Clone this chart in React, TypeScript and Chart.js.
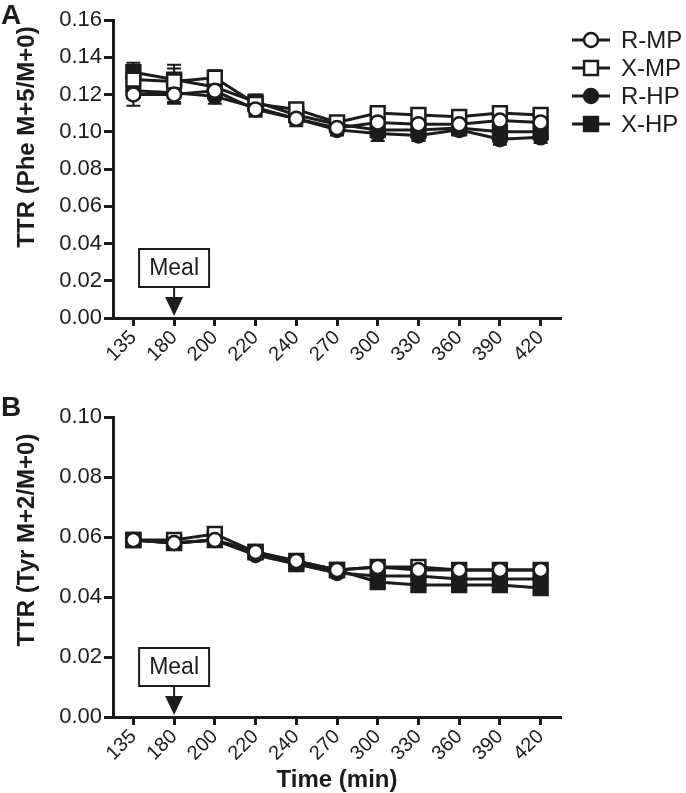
import React, { useEffect, useRef } from 'react';
import { Chart, registerables } from 'chart.js';

Chart.register(...registerables);

// ---------- data ----------
const TIMES = ['135', '180', '200', '220', '240', '270', '300', '330', '360', '390', '420'];
const SERIES_NAMES = ['R-MP', 'X-MP', 'R-HP', 'X-HP'];
const MEAL_LABEL = 'Meal';
const MEAL_TIME = '180';

// Panel A: Phe M+5/M+0
const PHE_R_MP = [0.120, 0.120, 0.122, 0.112, 0.107, 0.102, 0.105, 0.104, 0.104, 0.106, 0.105];
const PHE_X_MP = [0.128, 0.127, 0.129, 0.115, 0.112, 0.105, 0.110, 0.109, 0.108, 0.110, 0.109];
const PHE_R_HP = [0.122, 0.121, 0.119, 0.113, 0.107, 0.101, 0.099, 0.098, 0.101, 0.096, 0.097];
const PHE_X_HP = [0.132, 0.128, 0.124, 0.116, 0.109, 0.104, 0.101, 0.101, 0.102, 0.100, 0.100];
const PHE_R_MP_ERR = [0.006, 0.005, 0.004, 0.004, 0.004, 0.003, 0.004, 0.003, 0.003, 0.003, 0.003];
const PHE_X_MP_ERR = [0.005, 0.009, 0.004, 0.003, 0.003, 0.003, 0.003, 0.002, 0.002, 0.002, 0.002];
const PHE_R_HP_ERR = [0.004, 0.005, 0.004, 0.004, 0.003, 0.003, 0.004, 0.003, 0.003, 0.003, 0.003];
const PHE_X_HP_ERR = [0.005, 0.006, 0.004, 0.004, 0.003, 0.003, 0.004, 0.003, 0.003, 0.003, 0.003];

// Panel B: Tyr M+2/M+0
const TYR_R_MP = [0.059, 0.058, 0.059, 0.055, 0.052, 0.049, 0.050, 0.049, 0.049, 0.049, 0.049];
const TYR_X_MP = [0.059, 0.059, 0.061, 0.055, 0.052, 0.049, 0.050, 0.050, 0.049, 0.049, 0.049];
const TYR_R_HP = [0.059, 0.058, 0.059, 0.054, 0.051, 0.048, 0.047, 0.047, 0.046, 0.046, 0.046];
const TYR_X_HP = [0.059, 0.058, 0.059, 0.055, 0.051, 0.049, 0.045, 0.044, 0.044, 0.044, 0.043];
const TYR_R_MP_ERR = [0.001, 0.001, 0.001, 0.001, 0.001, 0.001, 0.001, 0.001, 0.001, 0.001, 0.001];
const TYR_X_MP_ERR = [0.001, 0.001, 0.002, 0.001, 0.001, 0.001, 0.001, 0.001, 0.001, 0.001, 0.001];
const TYR_R_HP_ERR = [0.001, 0.001, 0.001, 0.001, 0.001, 0.001, 0.002, 0.002, 0.002, 0.002, 0.002];
const TYR_X_HP_ERR = [0.001, 0.001, 0.001, 0.001, 0.002, 0.001, 0.002, 0.002, 0.002, 0.002, 0.002];

const PHE_Y_TICKS = [0, 0.02, 0.04, 0.06, 0.08, 0.10, 0.12, 0.14, 0.16];
const TYR_Y_TICKS = [0, 0.02, 0.04, 0.06, 0.08, 0.10];

// ---------- styles ----------
const INK = '#1c1c1c';
const FONT = 'Arial, "Liberation Sans", Helvetica, sans-serif';
const MARKERS = [
  { pointStyle: 'circle', radius: 7, fill: '#ffffff' },
  { pointStyle: 'rect', radius: 9.8, fill: '#ffffff' },
  { pointStyle: 'circle', radius: 7, fill: INK },
  { pointStyle: 'rect', radius: 9.8, fill: INK },
];

function makeDatasets(series: number[][]) {
  return series.map((data, i) => ({
    label: SERIES_NAMES[i],
    data,
    borderColor: INK,
    borderWidth: 3,
    tension: 0,
    fill: false,
    pointStyle: MARKERS[i].pointStyle,
    pointRadius: MARKERS[i].radius,
    pointHoverRadius: MARKERS[i].radius,
    pointBackgroundColor: MARKERS[i].fill,
    pointBorderColor: INK,
    pointBorderWidth: 2.5,
  }));
}

function errorBarPlugin(errs: number[][]) {
  return {
    id: 'errorBars',
    beforeDatasetsDraw(chart: any) {
      const ctx = chart.ctx;
      const y = chart.scales.y;
      ctx.save();
      ctx.strokeStyle = INK;
      ctx.lineWidth = 2;
      chart.data.datasets.forEach((ds: any, i: number) => {
        const meta = chart.getDatasetMeta(i);
        meta.data.forEach((pt: any, j: number) => {
          const v = ds.data[j];
          const e = errs[i][j];
          const yt = y.getPixelForValue(v + e);
          const yb = y.getPixelForValue(v - e);
          ctx.beginPath();
          ctx.moveTo(pt.x, yt);
          ctx.lineTo(pt.x, yb);
          ctx.moveTo(pt.x - 7, yt);
          ctx.lineTo(pt.x + 7, yt);
          ctx.moveTo(pt.x - 7, yb);
          ctx.lineTo(pt.x + 7, yb);
          ctx.stroke();
        });
      });
      ctx.restore();
    },
  };
}

const mealPlugin = {
  id: 'meal',
  afterDraw(chart: any) {
    const ctx = chart.ctx;
    const x = chart.scales.x.getPixelForValue(TIMES.indexOf(MEAL_TIME));
    const axisY = chart.chartArea.bottom;
    const boxW = 70;
    const boxH = 38;
    const boxBottom = axisY - 31;
    ctx.save();
    ctx.fillStyle = '#ffffff';
    ctx.strokeStyle = INK;
    ctx.lineWidth = 2;
    ctx.fillRect(x - boxW / 2, boxBottom - boxH, boxW, boxH);
    ctx.strokeRect(x - boxW / 2, boxBottom - boxH, boxW, boxH);
    ctx.fillStyle = INK;
    ctx.font = `23px ${FONT}`;
    ctx.textAlign = 'center';
    ctx.textBaseline = 'middle';
    ctx.fillText(MEAL_LABEL, x, boxBottom - boxH / 2 + 1);
    const tipY = axisY - 2;
    const headH = 19;
    ctx.beginPath();
    ctx.moveTo(x, boxBottom);
    ctx.lineTo(x, tipY - headH + 2);
    ctx.stroke();
    ctx.beginPath();
    ctx.moveTo(x - 9, tipY - headH);
    ctx.lineTo(x + 9, tipY - headH);
    ctx.lineTo(x, tipY);
    ctx.closePath();
    ctx.fill();
    ctx.restore();
  },
};

function textPlugin(opts: {
  letter: string;
  letterY: number;
  yTitle: string;
  yTitleY: number;
  xTitle?: string;
  xTitleY?: number;
  legend?: boolean;
}) {
  return {
    id: 'texts',
    afterDraw(chart: any) {
      const ctx = chart.ctx;
      ctx.save();
      ctx.fillStyle = INK;
      ctx.font = `bold 28px ${FONT}`;
      ctx.textAlign = 'left';
      ctx.textBaseline = 'alphabetic';
      ctx.fillText(opts.letter, 1, opts.letterY);
      ctx.save();
      ctx.translate(27, opts.yTitleY);
      ctx.rotate(-Math.PI / 2);
      ctx.font = `bold 24px ${FONT}`;
      ctx.textAlign = 'center';
      ctx.textBaseline = 'middle';
      ctx.fillText(opts.yTitle, 0, 0);
      ctx.restore();
      if (opts.xTitle) {
        const ca = chart.chartArea;
        ctx.font = `bold 24px ${FONT}`;
        ctx.textAlign = 'center';
        ctx.textBaseline = 'middle';
        ctx.fillText(opts.xTitle, (ca.left + ca.right) / 2, opts.xTitleY);
      }
      if (opts.legend) {
        const rows = [40, 68, 96, 124];
        chart.data.datasets.forEach((ds: any, i: number) => {
          const yy = rows[i];
          ctx.strokeStyle = INK;
          ctx.lineWidth = 3;
          ctx.beginPath();
          ctx.moveTo(572, yy);
          ctx.lineTo(610, yy);
          ctx.stroke();
          const m = MARKERS[i];
          ctx.fillStyle = m.fill;
          ctx.lineWidth = 2.5;
          ctx.beginPath();
          if (m.pointStyle === 'circle') {
            ctx.arc(591, yy, m.radius, 0, Math.PI * 2);
          } else {
            const s = m.radius * Math.SQRT1_2;
            ctx.rect(591 - s, yy - s, 2 * s, 2 * s);
          }
          ctx.fill();
          ctx.stroke();
          ctx.fillStyle = INK;
          ctx.font = `24px ${FONT}`;
          ctx.textAlign = 'left';
          ctx.textBaseline = 'middle';
          ctx.fillText(ds.label, 621, yy + 1);
        });
      }
      ctx.restore();
    },
  };
}

function makeConfig(
  series: number[][],
  errs: number[][],
  yTicks: number[],
  padTop: number,
  xHeight: number,
  texts: any
): any {
  return {
    type: 'line',
    data: { labels: TIMES, datasets: makeDatasets(series) },
    plugins: [errorBarPlugin(errs), mealPlugin, textPlugin(texts)],
    options: {
      animation: false,
      responsive: false,
      maintainAspectRatio: false,
      layout: { padding: { left: 0, right: 125, top: padTop, bottom: 0 } },
      plugins: { legend: { display: false }, tooltip: { enabled: false }, title: { display: false } },
      scales: {
        x: {
          type: 'category',
          offset: true,
          grid: {
            display: true,
            drawOnChartArea: false,
            drawTicks: true,
            tickLength: 8,
            tickWidth: 3,
            tickColor: INK,
            offset: false,
          },
          border: { display: true, color: INK, width: 3 },
          ticks: {
            color: INK,
            font: { family: FONT, size: 20 },
            minRotation: 45,
            maxRotation: 45,
            autoSkip: false,
            padding: 0,
          },
          afterFit: (s: any) => {
            s.height = xHeight;
          },
        },
        y: {
          type: 'linear',
          min: yTicks[0],
          max: yTicks[yTicks.length - 1],
          afterBuildTicks: (s: any) => {
            s.ticks = yTicks.map((v) => ({ value: v }));
          },
          grid: {
            display: true,
            drawOnChartArea: false,
            drawTicks: true,
            tickLength: 9,
            tickWidth: 3,
            tickColor: INK,
          },
          border: { display: true, color: INK, width: 3 },
          ticks: {
            color: INK,
            font: { family: FONT, size: 22 },
            padding: 2,
            callback: (v: any) => Number(v).toFixed(2),
          },
          afterFit: (s: any) => {
            s.width = 113;
          },
        },
      },
    },
  };
}

export default function App() {
  const refA = useRef<HTMLCanvasElement>(null);
  const refB = useRef<HTMLCanvasElement>(null);

  useEffect(() => {
    const a = new Chart(
      refA.current as HTMLCanvasElement,
      makeConfig(
        [PHE_R_MP, PHE_X_MP, PHE_R_HP, PHE_X_HP],
        [PHE_R_MP_ERR, PHE_X_MP_ERR, PHE_R_HP_ERR, PHE_X_HP_ERR],
        PHE_Y_TICKS,
        20,
        52,
        { letter: 'A', letterY: 24, yTitle: 'TTR (Phe M+5/M+0)', yTitleY: 137, legend: true }
      )
    );
    const b = new Chart(
      refB.current as HTMLCanvasElement,
      makeConfig(
        [TYR_R_MP, TYR_X_MP, TYR_R_HP, TYR_X_HP],
        [TYR_R_MP_ERR, TYR_X_MP_ERR, TYR_R_HP_ERR, TYR_X_HP_ERR],
        TYR_Y_TICKS,
        47,
        76,
        { letter: 'B', letterY: 46, yTitle: 'TTR (Tyr M+2/M+0)', yTitleY: 170, xTitle: 'Time (min)', xTitleY: 410 }
      )
    );
    return () => {
      a.destroy();
      b.destroy();
    };
  }, []);

  return (
    <div style={{ position: 'absolute', left: 0, top: 0, width: 686, height: 793, background: '#ffffff' }}>
      <canvas ref={refA} width={686} height={370} style={{ position: 'absolute', left: 0, top: 0 }} />
      <canvas ref={refB} width={686} height={423} style={{ position: 'absolute', left: 0, top: 370 }} />
    </div>
  );
}
